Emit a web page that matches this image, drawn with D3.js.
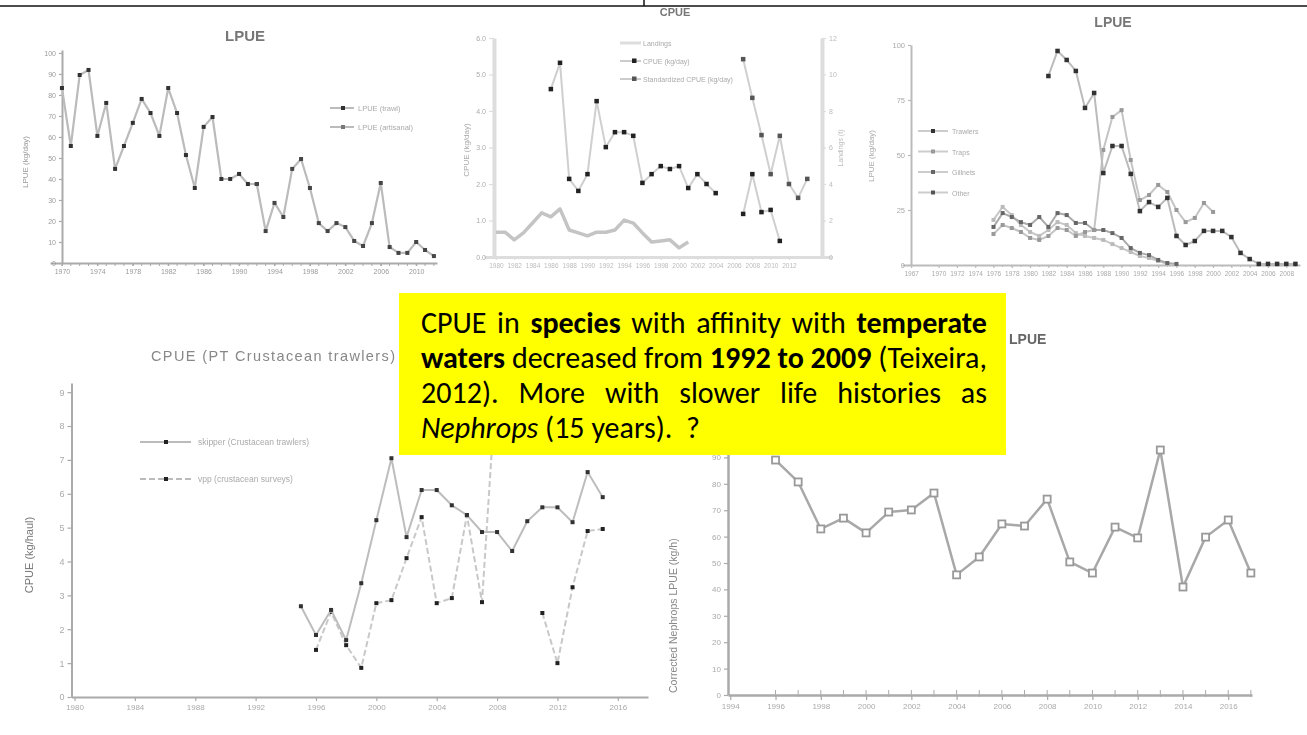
<!DOCTYPE html>
<html><head><meta charset="utf-8">
<script src="https://cdn.jsdelivr.net/npm/d3@7"></script>
<style>
html,body{margin:0;padding:0;background:#fff;}
svg{display:block;}
</style></head>
<body>
<svg id="chart" width="1307" height="735"></svg>
<script>
// ================= DATA =================
// Chart 1 (top-left) : LPUE
const c1YearsA = [1970,1971,1972,1973,1974,1975,1976,1977,1978,1979,1980,1981,1982,1983,1984,1985,1986,1987,1988,1989,1990,1991,1992];
const c1ValuesA = [83.3,55.7,89.5,91.9,60.5,76.2,44.8,55.7,66.7,78.1,71.4,60.5,83.3,71.4,51.4,35.7,64.8,69.5,40.0,40.0,42.4,37.6,37.6];
const c1YearsB = [1992,1993,1994,1995,1996,1997,1998,1999,2000,2001,2002,2003,2004,2005,2006,2007,2008,2009,2010,2011,2012];
const c1ValuesB = [37.6,15.2,28.6,21.9,44.8,49.5,35.7,19.0,15.2,19.0,17.1,10.5,8.1,19.0,38.1,7.6,4.8,4.8,10.0,6.2,3.3];
const c1XTicks = [1970,1974,1978,1982,1986,1990,1994,1998,2002,2006,2010];
const c1YTicks = [0,10,20,30,40,50,60,70,80,90,100];
const c1Legend = ["LPUE (trawl)","LPUE (artisanal)"];

// Chart 2 (top-middle) : CPUE
const c2XTicks = [1980,1982,1984,1986,1988,1990,1992,1994,1996,1998,2000,2002,2004,2006,2008,2010,2012];
const c2YTicksL = [0,1,2,3,4,5,6];
const c2YTicksR = [0,2,4,6,8,10,12];
const c2YearsA = [1980,1981,1982,1983,1984,1985,1986,1987,1988,1989,1990,1991,1992,1993,1994,1995,1996,1997,1998,1999,2000,2001];
const c2ValuesA = [1.36,1.36,0.94,1.32,1.86,2.42,2.2,2.64,1.48,1.32,1.16,1.36,1.36,1.48,2.02,1.86,1.32,0.82,0.88,0.94,0.5,0.82];
const c2YearsB = [1986,1987,1988,1989,1990,1991,1992,1993,1994,1995,1996,1997,1998,1999,2000,2001,2002,2003,2004,2007,2008,2009,2010,2011];
const c2ValuesB = [4.60,5.32,2.14,1.81,2.27,4.27,3.01,3.42,3.42,3.32,2.03,2.27,2.49,2.41,2.49,1.89,2.27,2.00,1.75,1.18,2.27,1.23,1.29,0.44];
const c2YearsC = [2007,2008,2009,2010,2011,2012,2013,2014];
const c2ValuesC = [5.42,4.36,3.34,2.27,3.32,2.00,1.62,2.14];
const c2Legend = ["Landings","CPUE (kg/day)","Standardized CPUE (kg/day)"];

// Chart 3 (top-right) : LPUE
const c3XTicks = [1967,1970,1972,1974,1976,1978,1980,1982,1984,1986,1988,1990,1992,1994,1996,1998,2000,2002,2004,2006,2008];
const c3YTicks = [0,25,50,75,100];
const c3Years1 = [1982,1983,1984,1985,1986,1987,1988,1989,1990,1991,1992,1993,1994,1995,1996,1997,1998,1999,2000,2001,2002,2003,2004,2005,2006,2007,2008,2009];
const c3Values1 = [85.9,97.3,93.2,88.2,71.4,78.2,41.8,54.1,54.1,41.4,24.5,28.6,26.4,30.5,13.2,9.1,10.9,15.5,15.5,15.5,12.7,5.5,2.7,0.5,0.5,0.5,0.5,0.5];
const c3Years2 = [1976,1977,1978,1979,1980,1981,1982,1983,1984,1985,1986,1987,1988,1989,1990,1991,1992,1993,1994,1995,1996,1997,1998,1999,2000];
const c3Values2 = [14.1,18.2,16.8,15.0,12.3,11.4,13.2,16.8,15.9,13.2,15.0,15.9,52.3,67.3,70.4,47.7,29.5,31.8,36.4,33.2,25.0,19.5,21.4,28.2,24.1];
const c3Years3 = [1976,1977,1978,1979,1980,1981,1982,1983,1984,1985,1986,1987,1988,1989,1990,1991,1992,1993,1994,1995,1996];
const c3Values3 = [17.3,23.6,21.8,19.5,18.2,21.8,17.3,23.6,22.7,19.1,19.1,15.9,15.9,14.5,12.3,7.7,5.5,4.5,2.3,0.9,0.5];
const c3Years4 = [1976,1977,1978,1979,1980,1981,1982,1983,1984,1985,1986,1987,1988,1989,1990,1991,1992,1993,1994,1995];
const c3Values4 = [20.5,26.4,22.7,18.2,15.0,13.2,15.9,19.5,18.2,14.5,13.2,12.3,11.4,9.5,7.7,5.9,4.1,3.2,1.8,0.5];
const c3Legend = ["Trawlers","Traps","Gillnets","Other"];

// Chart 4 (bottom-left) : CPUE (PT Crustacean trawlers)
const c4XTicks = [1980,1984,1988,1992,1996,2000,2004,2008,2012,2016];
const c4YTicks = [0,1,2,3,4,5,6,7,8,9];
const c4YearsSkipper = [1995,1996,1997,1998,1999,2000,2001,2002,2003,2004,2005,2006,2007,2008,2009,2010,2011,2012,2013,2014,2015];
const c4ValuesSkipper = [2.68,1.83,2.57,1.68,3.36,5.22,7.05,4.72,6.11,6.11,5.66,5.37,4.87,4.87,4.31,5.19,5.60,5.60,5.16,6.64,5.90];
const c4YearsVpp = [1996,1997,1998,1999,2000,2001,2002,2003,2004,2005,2006,2007,2008,2011,2012,2013,2014,2015];
const c4ValuesVpp = [1.39,2.51,1.53,0.86,2.77,2.86,4.10,5.31,2.77,2.92,5.37,2.80,9.70,2.48,1.00,3.24,4.90,4.96];
const c4Legend = ["skipper (Crustacean trawlers)","vpp (crustacean surveys)"];

// Chart 5 (bottom-right) : Nephrops LPUE
const c5XTicks = [1994,1996,1998,2000,2002,2004,2006,2008,2010,2012,2014,2016];
const c5YTicks = [0,10,20,30,40,50,60,70,80,90,100];
const c5Years = [1996,1997,1998,1999,2000,2001,2002,2003,2004,2005,2006,2007,2008,2009,2010,2011,2012,2013,2014,2015,2016,2017];
const c5Values = [89.0,80.7,62.9,67.0,61.4,69.3,70.1,76.5,45.5,52.3,64.8,64.0,74.2,50.4,46.2,63.6,59.5,92.8,40.9,59.8,66.3,46.2];

// ================= HELPERS =================
const svg = d3.select("#chart");
const defs = svg.append("defs");
defs.append("filter").attr("id","soft").attr("x","-5%").attr("y","-5%").attr("width","110%").attr("height","110%")
  .append("feGaussianBlur").attr("stdDeviation",0.75);
const SF = "Liberation Sans, Arial, sans-serif";

function pairs(years, values){ return years.map((y,i)=>({year:y, value:values[i]})); }
function segments(arr){
  const out=[]; let cur=[];
  arr.forEach((d,i)=>{ if(i>0 && d.year-arr[i-1].year>1){ out.push(cur); cur=[]; } cur.push(d); });
  if(cur.length) out.push(cur);
  return out;
}
function drawSeries(g, data, x, y, o){
  const line = d3.line().x(d=>x(d.year)).y(d=>y(d.value));
  segments(data).forEach(seg=>{
    g.append("path").datum(seg).attr("d", line).attr("fill","none")
      .attr("stroke",o.line).attr("stroke-width",o.lw)
      .attr("stroke-dasharray",o.dash||null).attr("stroke-linejoin","round");
  });
  if(o.ms){
    const s=o.ms;
    g.selectAll(null).data(data).enter().append("rect")
      .attr("x",d=>x(d.year)-s/2).attr("y",d=>y(d.value)-s/2)
      .attr("width",s).attr("height",s)
      .attr("fill",o.mf).attr("stroke",o.mstroke||"none").attr("stroke-width",o.msw||0);
  }
}
function styleAxis(g, color, width, fs, tcolor){
  g.select(".domain").attr("stroke",color).attr("stroke-width",width);
  g.selectAll(".tick line").attr("stroke",color).attr("stroke-width",1.2);
  g.selectAll(".tick text").attr("fill",tcolor||"#999").attr("font-size",fs).attr("font-family",SF);
}
function minorTicks(g, scale, years, yPos, len, color){
  g.selectAll(null).data(years).enter().append("line")
    .attr("x1",d=>scale(d)).attr("x2",d=>scale(d)).attr("y1",yPos).attr("y2",yPos+len)
    .attr("stroke",color).attr("stroke-width",1);
}

// frame lines at the top
svg.append("line").attr("x1",0).attr("x2",1307).attr("y1",6).attr("y2",6).attr("stroke","#111").attr("stroke-width",1.5);
svg.append("line").attr("x1",644).attr("x2",644).attr("y1",0).attr("y2",6).attr("stroke","#111").attr("stroke-width",1.5);

// ================= CHART 1 =================
{
  const g = svg.append("g").attr("filter","url(#soft)");
  const x = d3.scaleLinear().domain([1968.65,2012.35]).range([50,437]);
  const y = d3.scaleLinear().domain([0,101.4]).range([263,50]);
  const xa = g.append("g").attr("transform","translate(0,263)")
    .call(d3.axisBottom(x).tickValues(c1XTicks).tickFormat(d3.format("d")).tickSize(3).tickSizeOuter(0));
  styleAxis(xa,"#aaa",2,7);
  minorTicks(g, x, c1YearsA.concat(c1YearsB.slice(1)), 263, 3, "#aaa");
  const ya = g.append("g").attr("transform","translate(62,0)")
    .call(d3.axisLeft(y).tickValues(c1YTicks).tickSize(3).tickSizeOuter(0));
  styleAxis(ya,"#aaa",2,7);
  drawSeries(g, pairs(c1YearsA,c1ValuesA), x, y, {line:"#bbb", lw:2.2, ms:4, mf:"#333"});
  drawSeries(g, pairs(c1YearsB,c1ValuesB), x, y, {line:"#bbb", lw:2.2, ms:4, mf:"#444"});
  g.append("text").attr("x",245).attr("y",41).attr("text-anchor","middle").attr("font-family",SF)
    .attr("font-size",15).attr("font-weight","bold").attr("fill","#777").text("LPUE");
  g.append("text").attr("transform","translate(28,162) rotate(-90)").attr("text-anchor","middle")
    .attr("font-family",SF).attr("font-size",8).attr("fill","#999").text("LPUE (kg/day)");
  c1Legend.forEach((t,i)=>{
    const ly = 108 + i*19;
    g.append("line").attr("x1",330).attr("x2",354).attr("y1",ly).attr("y2",ly).attr("stroke","#bbb").attr("stroke-width",2);
    g.append("rect").attr("x",341).attr("y",ly-2).attr("width",4).attr("height",4).attr("fill",i?"#777":"#333");
    g.append("text").attr("x",358).attr("y",ly+3).attr("font-family",SF).attr("font-size",7.5).attr("fill","#aaa").text(t);
  });
}

// ================= CHART 2 =================
{
  const g = svg.append("g").attr("filter","url(#soft)");
  const x = d3.scaleLinear().domain([1978.7,2016.7]).range([484,832]);
  const yL = d3.scaleLinear().domain([0,6]).range([257,38]);
  const yR = d3.scaleLinear().domain([0,12]).range([257,38]);
  const xa = g.append("g").attr("transform","translate(0,257)")
    .call(d3.axisBottom(x).tickValues(c2XTicks).tickFormat(d3.format("d")).tickSize(3).tickSizeOuter(0));
  styleAxis(xa,"#ddd",3,6.5,"#bbb");
  const yla = g.append("g").attr("transform","translate(494,0)")
    .call(d3.axisLeft(yL).tickValues(c2YTicksL).tickSize(5).tickSizeOuter(0));
  styleAxis(yla,"#ddd",4,7,"#aaa");
  const yra = g.append("g").attr("transform","translate(822,0)")
    .call(d3.axisRight(yR).tickValues(c2YTicksR).tickSize(4).tickSizeOuter(0));
  styleAxis(yra,"#ddd",4,7,"#bbb");
  drawSeries(g, pairs(c2YearsA,c2ValuesA), x, yR, {line:"#c4c4c4", lw:3.5});
  drawSeries(g, pairs(c2YearsB,c2ValuesB), x, yL, {line:"#cfcfcf", lw:2, ms:4.5, mf:"#222"});
  drawSeries(g, pairs(c2YearsC,c2ValuesC), x, yL, {line:"#cfcfcf", lw:2, ms:4.5, mf:"#555"});
  g.append("text").attr("x",675).attr("y",16).attr("text-anchor","middle").attr("font-family",SF)
    .attr("font-size",11).attr("font-weight","bold").attr("fill","#777").text("CPUE");
  g.append("text").attr("transform","translate(469,150) rotate(-90)").attr("text-anchor","middle")
    .attr("font-family",SF).attr("font-size",8).attr("fill","#aaa").text("CPUE (kg/day)");
  g.append("text").attr("transform","translate(843,148) rotate(-90)").attr("text-anchor","middle")
    .attr("font-family",SF).attr("font-size",7).attr("fill","#bbb").text("Landings (t)");
  c2Legend.forEach((t,i)=>{
    const ly = 43 + i*18;
    g.append("line").attr("x1",620).attr("x2",641).attr("y1",ly).attr("y2",ly).attr("stroke",i?"#ccc":"#ddd").attr("stroke-width",i?2:3);
    if(i) g.append("rect").attr("x",632).attr("y",ly-2.5).attr("width",4.5).attr("height",4.5).attr("fill",i===1?"#222":"#555");
    g.append("text").attr("x",643).attr("y",ly+3).attr("font-family",SF).attr("font-size",7).attr("fill","#aaa").text(t);
  });
}

// ================= CHART 3 =================
{
  const g = svg.append("g").attr("filter","url(#soft)");
  const x = d3.scaleLinear().domain([1966,2009.5]).range([902,1300]);
  const y = d3.scaleLinear().domain([0,100]).range([265,45]);
  const xa = g.append("g").attr("transform","translate(0,265)")
    .call(d3.axisBottom(x).tickValues(c3XTicks).tickFormat(d3.format("d")).tickSize(3).tickSizeOuter(0));
  styleAxis(xa,"#bbb",2,6.5,"#aaa");
  minorTicks(g, x, c3Years1.concat(c3Years2).filter((v,i,a)=>a.indexOf(v)===i), 265, 2, "#bbb");
  const ya = g.append("g").attr("transform","translate(911,0)")
    .call(d3.axisLeft(y).tickValues(c3YTicks).tickSize(3).tickSizeOuter(0));
  styleAxis(ya,"#bbb",2,7.5,"#aaa");
  drawSeries(g, pairs(c3Years4,c3Values4), x, y, {line:"#c8c8c8", lw:2, ms:4, mf:"#bbb"});
  drawSeries(g, pairs(c3Years3,c3Values3), x, y, {line:"#aaa", lw:2, ms:4, mf:"#666"});
  drawSeries(g, pairs(c3Years2,c3Values2), x, y, {line:"#c4c4c4", lw:2, ms:4, mf:"#999"});
  drawSeries(g, pairs(c3Years1,c3Values1), x, y, {line:"#bbb", lw:2, ms:4.5, mf:"#333"});
  g.append("text").attr("x",1113).attr("y",27).attr("text-anchor","middle").attr("font-family",SF)
    .attr("font-size",14).attr("font-weight","bold").attr("fill","#777").text("LPUE");
  g.append("text").attr("transform","translate(874,156) rotate(-90)").attr("text-anchor","middle")
    .attr("font-family",SF).attr("font-size",8).attr("fill","#aaa").text("LPUE (kg/day)");
  const lc = ["#333","#999","#666","#555"];
  c3Legend.forEach((t,i)=>{
    const ly = 131 + i*20.5;
    g.append("line").attr("x1",918).attr("x2",948).attr("y1",ly).attr("y2",ly).attr("stroke","#ccc").attr("stroke-width",2);
    g.append("rect").attr("x",931).attr("y",ly-2).attr("width",4).attr("height",4).attr("fill",lc[i]);
    g.append("text").attr("x",952).attr("y",ly+3).attr("font-family",SF).attr("font-size",7).attr("fill","#aaa").text(t);
  });
}

// ================= CHART 4 =================
{
  const g = svg.append("g").attr("filter","url(#soft)");
  const x = d3.scaleLinear().domain([1979.8,2018]).range([71.5,648]);
  const y = d3.scaleLinear().domain([0,9.27]).range([697,383]);
  const xa = g.append("g").attr("transform","translate(0,697)")
    .call(d3.axisBottom(x).tickValues(c4XTicks).tickFormat(d3.format("d")).tickSize(4).tickSizeOuter(0));
  styleAxis(xa,"#aaa",2,8,"#aaa");
  const ya = g.append("g").attr("transform","translate(71.5,0)")
    .call(d3.axisLeft(y).tickValues(c4YTicks).tickSize(4).tickSizeOuter(0));
  styleAxis(ya,"#aaa",2,9,"#aaa");
  drawSeries(g, pairs(c4YearsVpp,c4ValuesVpp), x, y, {line:"#c8c8c8", lw:2, dash:"6,3", ms:4, mf:"#222"});
  drawSeries(g, pairs(c4YearsSkipper,c4ValuesSkipper), x, y, {line:"#bdbdbd", lw:2, ms:4, mf:"#333"});
  g.append("text").attr("x",151).attr("y",361).attr("font-family",SF).attr("font-size",14.5)
    .attr("fill","#888").attr("textLength",244).attr("lengthAdjust","spacing").text("CPUE (PT Crustacean trawlers)");
  g.append("text").attr("transform","translate(33,555) rotate(-90)").attr("text-anchor","middle")
    .attr("font-family",SF).attr("font-size",11).attr("fill","#777").text("CPUE (kg/haul)");
  c4Legend.forEach((t,i)=>{
    const ly = 442 + i*37;
    g.append("line").attr("x1",140).attr("x2",191).attr("y1",ly).attr("y2",ly).attr("stroke","#bbb").attr("stroke-width",2)
      .attr("stroke-dasharray",i?"6,3":null);
    g.append("rect").attr("x",164).attr("y",ly-2).attr("width",4).attr("height",4).attr("fill","#222");
    g.append("text").attr("x",198).attr("y",ly+3).attr("font-family",SF).attr("font-size",8.5).attr("fill","#aaa").text(t);
  });
}

// ================= CHART 5 =================
{
  const g = svg.append("g").attr("filter","url(#soft)");
  const x = d3.scaleLinear().domain([1993.9,2017.05]).range([728,1252]);
  const y = d3.scaleLinear().domain([0,100]).range([695,431]);
  const xa = g.append("g").attr("transform","translate(0,695)")
    .call(d3.axisBottom(x).tickValues(c5XTicks).tickFormat(d3.format("d")).tickSize(5).tickSizeOuter(0));
  styleAxis(xa,"#aaa",2.5,8,"#aaa");
  minorTicks(g, x, c5Years, 690, 7, "#aaa");
  const ya = g.append("g").attr("transform","translate(728,0)")
    .call(d3.axisLeft(y).tickValues(c5YTicks).tickSize(4).tickSizeOuter(0));
  styleAxis(ya,"#aaa",2.5,8,"#aaa");
  drawSeries(g, pairs(c5Years,c5Values), x, y, {line:"#a8a8a8", lw:2.5, ms:7, mf:"#fff", mstroke:"#999", msw:1.8});
  g.append("text").attr("x",1009).attr("y",344).attr("text-anchor","start").attr("font-family",SF)
    .attr("font-size",14).attr("font-weight","bold").attr("fill","#666").text("LPUE");
  g.append("text").attr("transform","translate(677,693) rotate(-90)").attr("text-anchor","start")
    .attr("font-family",SF).attr("font-size",10.5).attr("fill","#888").text("Corrected Nephrops LPUE (kg/h)");
}

// ================= YELLOW TEXT BOX =================
{
  const g = svg.append("g");
  g.append("rect").attr("x",399).attr("y",293).attr("width",607).attr("height",162).attr("fill","#ffff00");
  const FF = "Carlito, Calibri, Lato, 'Open Sans', sans-serif";
  const boxLines = [
    [{t:"CPUE"},{t:"in"},{t:"species",b:1},{t:"with"},{t:"affinity"},{t:"with"},{t:"temperate",b:1}],
    [{t:"waters",b:1},{t:"decreased"},{t:"from"},{t:"1992",b:1},{t:"to",b:1},{t:"2009",b:1},{t:"(Teixeira,"}],
    [{t:"2012)."},{t:"More"},{t:"with"},{t:"slower"},{t:"life"},{t:"histories"},{t:"as"}],
    [{t:"Nephrops",i:1},{t:"(15"},{t:"years)."},{t:"?",gap:2}]
  ];
  const left = 421, right = 987;
  function mk(w, fs){
    return g.append("text").attr("font-family",FF).attr("font-size",fs)
      .attr("font-weight",w.b?"bold":"normal").attr("font-style",w.i?"italic":"normal")
      .attr("fill","#000").text(w.t);
  }
  function measure(w, fs){ const t = mk(w,fs); const l = t.node().getComputedTextLength(); t.remove(); return l; }
  function spaceW(fs){ return measure({t:"a a"},fs) - measure({t:"aa"},fs); }
  let fs = 29;
  const nat = boxLines[1].reduce((s,w)=>s+measure(w,fs),0) + spaceW(fs)*(boxLines[1].length-1);
  fs = fs * Math.min(1.04, (right-left)/nat);
  const sw = spaceW(fs);
  const base = [333, 368, 403, 438];
  boxLines.forEach((ln, li)=>{
    const widths = ln.map(w=>measure(w,fs));
    const total = widths.reduce((a,b)=>a+b,0);
    let gap = sw;
    if(li < 3) gap = (right-left-total)/(ln.length-1);
    let cx = left;
    ln.forEach((w,wi)=>{
      if(wi>0) cx += (w.gap ? gap*w.gap : gap);
      mk(w,fs).attr("x",cx).attr("y",base[li]);
      cx += widths[wi];
    });
  });
}
</script>
</body></html>
